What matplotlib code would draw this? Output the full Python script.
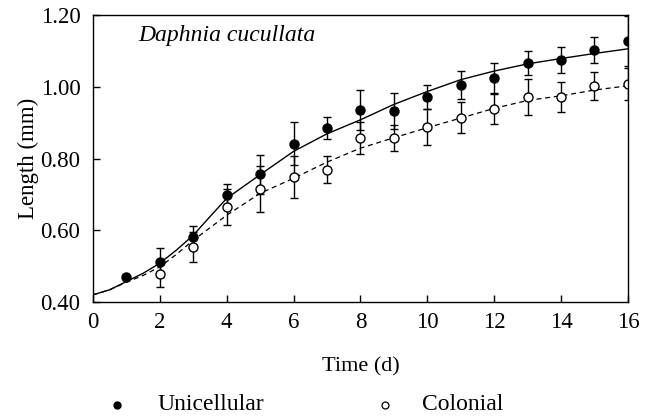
import numpy as np
import matplotlib.pyplot as plt
from matplotlib.lines import Line2D

plt.rcParams['font.family'] = ['Liberation Serif', 'DejaVu Serif']

days = np.arange(1, 17)

# measured means and sd (mm)
uni = [0.469, 0.511, 0.582, 0.699, 0.756, 0.841, 0.885, 0.935, 0.933, 0.972,
       1.005, 1.024, 1.066, 1.074, 1.102, 1.128]
uni_err = [0.0, 0.04, 0.03, 0.03, 0.055, 0.06, 0.03, 0.055, 0.05, 0.033,
           0.04, 0.042, 0.033, 0.036, 0.036, 0.07]
col_days = np.arange(2, 17)
col = [0.478, 0.553, 0.664, 0.714, 0.748, 0.769, 0.858, 0.858, 0.889, 0.914,
       0.939, 0.972, 0.972, 1.003, 1.008]
col_err = [0.036, 0.042, 0.05, 0.064, 0.058, 0.038, 0.044, 0.036, 0.05, 0.044,
           0.042, 0.05, 0.042, 0.039, 0.045]

# fitted growth curves
fit_t = [0, 0.5, 1, 1.5, 2, 2.5, 3, 3.5, 4, 5, 6, 7, 8, 9, 10, 11, 12, 13, 14, 15, 16]
fit_uni = [0.42, 0.434, 0.457, 0.48, 0.508, 0.545, 0.586, 0.638, 0.689, 0.755, 0.82,
           0.869, 0.908, 0.951, 0.987, 1.02, 1.044, 1.064, 1.079, 1.093, 1.106]
fit_col = [0.42, 0.434, 0.455, 0.474, 0.498, 0.533, 0.572, 0.607, 0.642, 0.703, 0.745,
           0.79, 0.829, 0.858, 0.886, 0.913, 0.94, 0.962, 0.975, 0.991, 1.003]

fig = plt.figure(figsize=(6.5, 4.2), dpi=100)
ax = fig.add_axes([0.143, 0.281, 0.823, 0.683])

ax.plot(fit_t, fit_uni, '-', color='black', lw=1.0)
ax.plot(fit_t, fit_col, '--', color='black', lw=0.9, dashes=(4, 3))
ax.errorbar(days, uni, yerr=uni_err, fmt='o', color='black', ms=6.5, mfc='black',
            ecolor='black', elinewidth=1.0, capsize=3, capthick=1.0)
ax.errorbar(col_days, col, yerr=col_err, fmt='o', color='black', ms=6.5, mfc='white',
            ecolor='black', elinewidth=1.0, capsize=3, capthick=1.0, mew=1.0)

ax.set_xlim(0, 16)
ax.set_ylim(0.40, 1.20)
ax.set_xticks(range(0, 17, 2))
ax.set_yticks([0.4, 0.6, 0.8, 1.0, 1.2])
ax.set_yticklabels(['0.40', '0.60', '0.80', '1.00', '1.20'])
ax.tick_params(direction='in', labelsize=16.5, length=5, width=1.0)
ax.tick_params(axis='x', pad=7)
ax.tick_params(axis='y', pad=9)
for s in ax.spines.values():
    s.set_linewidth(1.0)

ax.set_xlabel('Time (d)', fontsize=16, labelpad=18)
ax.set_ylabel('Length (mm)', fontsize=16.5, labelpad=1)
ax.text(0.085, 0.93, 'Daphnia cucullata', transform=ax.transAxes, fontsize=17,
        style='italic', va='center')

# legend below the axes
leg_y = 1 - 405 / 420
fig.add_artist(Line2D([117 / 650], [leg_y], ls='none', marker='o', color='black',
                      mfc='black', ms=5, transform=fig.transFigure))
fig.add_artist(Line2D([385 / 650], [leg_y], ls='none', marker='o', color='black',
                      mfc='white', ms=5, mew=0.9, transform=fig.transFigure))
fig.text(157 / 650, leg_y, 'Unicellular', fontsize=17, va='center')
fig.text(422 / 650, leg_y, 'Colonial', fontsize=17, va='center')

fig.savefig('out.png', dpi=100)
